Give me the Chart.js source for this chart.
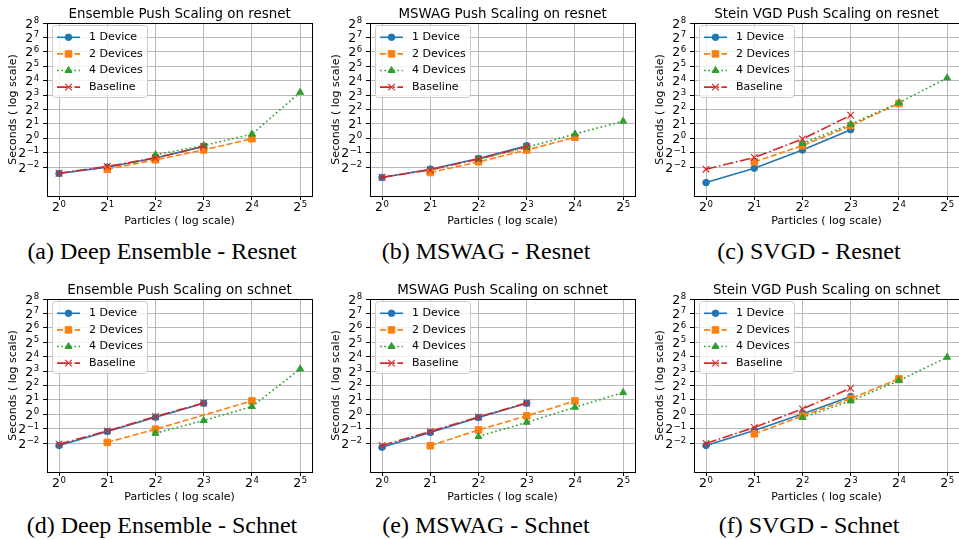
<!doctype html>
<html lang="en">
<head>
  <meta charset="UTF-8" />
  <title>Push Scaling</title>
  <script src="https://cdn.jsdelivr.net/npm/chart.js@4.4.4/dist/chart.umd.min.js"></script>
  <style>
    html, body { margin: 0; padding: 0; background: #fff; }
    body {
      width: 959px;
      height: 540px;
      overflow: hidden;
      position: relative;
      font-family: "DejaVu Sans", sans-serif;
    }
    canvas.panel { position: absolute; }
    .caption {
      position: absolute;
      width: 360px;
      text-align: center;
      font-family: "Liberation Serif", "Times New Roman", serif;
      font-size: 24px;
      line-height: 24px;
      color: #000;
      white-space: nowrap;
    }
  </style>
</head>
<body>
<script>
  // particle counts on the x axis
  const xBase = [1, 2, 4, 8];
  const xTwo = [2, 4, 8, 16];
  const xFour = [4, 8, 16, 32];
  const xTwoEnsSchnet = [2, 4, 16];

  // tick exponents (labels are 2^n)
  const xTickExp = [0, 1, 2, 3, 4, 5];
  const yTickExp = [-2, -1, 0, 1, 2, 3, 4, 5, 6, 7, 8];

  const seriesNames = ['1 Device', '2 Devices', '4 Devices', 'Baseline'];

  // seconds
  const ensResnet1 = [0.184, 0.250, 0.387, 0.678];
  const ensResnet2 = [0.227, 0.356, 0.574, 0.979];
  const ensResnet4 = [0.454, 0.707, 1.223, 9.13];
  const ensResnetBase = [0.187, 0.259, 0.392, 0.678];

  const swagResnet1 = [0.152, 0.227, 0.379, 0.702];
  const swagResnet2 = [0.193, 0.323, 0.570, 1.050];
  const swagResnet4 = [0.369, 0.646, 1.231, 2.282];
  const swagResnetBase = [0.154, 0.219, 0.369, 0.669];

  const svgdResnet1 = [0.119, 0.238, 0.570, 1.516];
  const svgdResnet2 = [0.323, 0.702, 1.840, 5.35];
  const svgdResnet4 = [0.785, 1.973, 5.54, 18.26];
  const svgdResnetBase = [0.227, 0.398, 0.966, 3.03];

  const ensSchnet1 = [0.224, 0.438, 0.871, 1.705];
  const ensSchnet2 = [0.259, 0.490, 1.905];
  const ensSchnet4 = [0.403, 0.742, 1.454, 8.88];
  const ensSchnetBase = [0.238, 0.451, 0.901, 1.729];

  const swagSchnet1 = [0.206, 0.418, 0.858, 1.705];
  const swagSchnet2 = [0.221, 0.473, 0.927, 1.905];
  const swagSchnet4 = [0.344, 0.683, 1.404, 2.848];
  const swagSchnetBase = [0.224, 0.438, 0.883, 1.729];

  const svgdSchnet1 = [0.224, 0.460, 1.021, 2.346];
  const svgdSchnet2 = [0.392, 0.927, 2.129, 5.50];
  const svgdSchnet4 = [0.858, 1.905, 5.06, 15.56];
  const svgdSchnetBase = [0.247, 0.532, 1.301, 3.506];

  const panels = [
    { title: 'Ensemble Push Scaling on resnet', caption: '(a) Deep Ensemble - Resnet', left: 47, top: 23, capX: 162, capY: 239,
      xs: [xBase, xTwo, xFour, xBase], ys: [ensResnet1, ensResnet2, ensResnet4, ensResnetBase] },
    { title: 'MSWAG Push Scaling on resnet', caption: '(b) MSWAG - Resnet', left: 370, top: 23, capX: 486, capY: 239,
      xs: [xBase, xTwo, xFour, xBase], ys: [swagResnet1, swagResnet2, swagResnet4, swagResnetBase] },
    { title: 'Stein VGD Push Scaling on resnet', caption: '(c) SVGD - Resnet', left: 694, top: 23, capX: 809, capY: 239,
      xs: [xBase, xTwo, xFour, xBase], ys: [svgdResnet1, svgdResnet2, svgdResnet4, svgdResnetBase] },
    { title: 'Ensemble Push Scaling on schnet', caption: '(d) Deep Ensemble - Schnet', left: 47, top: 299, capX: 162, capY: 513,
      xs: [xBase, xTwoEnsSchnet, xFour, xBase], ys: [ensSchnet1, ensSchnet2, ensSchnet4, ensSchnetBase] },
    { title: 'MSWAG Push Scaling on schnet', caption: '(e) MSWAG - Schnet', left: 370, top: 299, capX: 486, capY: 513,
      xs: [xBase, xTwo, xFour, xBase], ys: [swagSchnet1, swagSchnet2, swagSchnet4, swagSchnetBase] },
    { title: 'Stein VGD Push Scaling on schnet', caption: '(f) SVGD - Schnet', left: 694, top: 299, capX: 809, capY: 513,
      xs: [xBase, xTwo, xFour, xBase], ys: [svgdSchnet1, svgdSchnet2, svgdSchnet4, svgdSchnetBase] }
  ];

  const styles = [
    { color: '#1f77b4', dash: [], point: 'circle', radius: 3.3, pw: 1 },
    { color: '#ff7f0e', dash: [6.1, 2.6], point: 'rect', radius: 4.6, pw: 1 },
    { color: '#2ca02c', dash: [1.65, 2.7], point: 'triangle', radius: 4, pw: 1 },
    { color: '#d62728', dash: [10.6, 2.6, 1.65, 2.6], point: 'crossRot', radius: 4.7, pw: 1.1 }
  ];

  const AXIS_W = 47, TOP_PAD = 23, X_H = 35, RIGHT_PAD = 3;
  const PLOT_W = 268, PLOT_H = 173;
  const FONT = 'DejaVu Sans';
  const BASE_PX = 12.5, SUP_PX = 8.5, SUP_RAISE = 4.6;

  // "2" with a raised exponent, like matplotlib mathtext
  function drawPow(ctx, e, x, y, align) {
    const exp = String(e).replace('-', '\u2212');
    ctx.font = BASE_PX + 'px "' + FONT + '"';
    const w1 = ctx.measureText('2').width;
    ctx.font = SUP_PX + 'px "' + FONT + '"';
    const w2 = ctx.measureText(exp).width;
    const total = w1 + 0.5 + w2;
    const x0 = align === 'center' ? x - total / 2 : x - total;
    ctx.textAlign = 'left';
    ctx.textBaseline = 'alphabetic';
    ctx.font = BASE_PX + 'px "' + FONT + '"';
    ctx.fillText('2', x0, y);
    ctx.font = SUP_PX + 'px "' + FONT + '"';
    ctx.fillText(exp, x0 + w1 + 0.5, y - SUP_RAISE);
  }

  const panelDecor = {
    id: 'panelDecor',
    afterDraw(chart, args, opts) {
      const { ctx, chartArea: a } = chart;
      const sx = chart.scales.x, sy = chart.scales.y;
      ctx.save();

      // tick labels placed by the scales
      ctx.fillStyle = '#000';
      xTickExp.forEach(e => drawPow(ctx, e, sx.getPixelForValue(Math.pow(2, e)), a.bottom + 15.3, 'center'));
      yTickExp.forEach(e => drawPow(ctx, e, a.left - 7.8, sy.getPixelForValue(Math.pow(2, e)) + 4.5, 'right'));

      // legend, upper left inside the axes
      const lx = a.left + 5.5, ly = a.top + 2.5;
      ctx.beginPath();
      ctx.roundRect(lx, ly, 95, 72, 3);
      ctx.fillStyle = 'rgba(255,255,255,0.8)';
      ctx.fill();
      ctx.strokeStyle = '#cccccc';
      ctx.lineWidth = 1;
      ctx.stroke();
      chart.data.datasets.forEach((ds, i) => {
        const st = styles[i];
        const y = a.top + 14.3 + i * 16.6;
        ctx.beginPath();
        ctx.setLineDash(st.dash);
        ctx.strokeStyle = st.color;
        ctx.lineWidth = 1.6;
        ctx.moveTo(a.left + 10, y);
        ctx.lineTo(a.left + 33, y);
        ctx.stroke();
        ctx.setLineDash([]);
        ctx.fillStyle = st.color;
        ctx.lineWidth = st.pw;
        Chart.helpers.drawPoint(ctx, { pointStyle: st.point, radius: st.radius, borderWidth: st.pw, rotation: 0 }, a.left + 21.5, y);
        ctx.fillStyle = '#000';
        ctx.font = '11px "' + FONT + '"';
        ctx.textAlign = 'left';
        ctx.textBaseline = 'middle';
        ctx.fillText(ds.label, a.left + 42, y);
      });

      // spines
      ctx.strokeStyle = '#000';
      ctx.lineWidth = 1;
      ctx.strokeRect(Math.round(a.left) + 0.5, Math.round(a.top) + 0.5,
        Math.round(a.right - a.left), Math.round(a.bottom - a.top));

      // title
      ctx.fillStyle = '#000';
      ctx.font = '13.4px "' + FONT + '"';
      ctx.textAlign = 'center';
      ctx.textBaseline = 'middle';
      ctx.fillText(opts.text, (a.left + a.right) / 2, a.top - 8.8);
      ctx.restore();
    }
  };

  panels.forEach(p => {
    const canvas = document.createElement('canvas');
    canvas.className = 'panel';
    canvas.width = AXIS_W + PLOT_W + RIGHT_PAD;
    canvas.height = TOP_PAD + PLOT_H + X_H;
    canvas.style.left = (p.left - AXIS_W) + 'px';
    canvas.style.top = (p.top - TOP_PAD) + 'px';
    document.body.appendChild(canvas);

    const cap = document.createElement('div');
    cap.className = 'caption';
    cap.textContent = p.caption;
    cap.style.left = (p.capX - 180) + 'px';
    cap.style.top = p.capY + 'px';
    document.body.appendChild(cap);

    const datasets = seriesNames.map((name, i) => ({
      label: name,
      data: p.xs[i].map((x, j) => ({ x, y: p.ys[i][j] })),
      borderColor: styles[i].color,
      backgroundColor: styles[i].color,
      borderWidth: 1.6,
      borderDash: styles[i].dash,
      pointStyle: styles[i].point,
      pointRadius: styles[i].radius,
      pointBorderWidth: styles[i].pw,
      pointBackgroundColor: styles[i].color,
      pointBorderColor: styles[i].color,
      tension: 0,
      fill: false,
      order: 3 - i
    }));

    new Chart(canvas, {
      type: 'line',
      data: { datasets },
      plugins: [panelDecor],
      options: {
        responsive: false,
        animation: false,
        devicePixelRatio: 1,
        layout: { padding: { top: TOP_PAD, right: RIGHT_PAD, left: 0, bottom: 0 } },
        plugins: {
          legend: { display: false },
          tooltip: { enabled: false },
          title: { display: false },
          panelDecor: { text: p.title }
        },
        scales: {
          x: {
            type: 'logarithmic',
            bounds: 'data',
            min: Math.pow(2, -0.25),
            max: Math.pow(2, 5.25),
            afterBuildTicks: axis => { axis.ticks = xTickExp.map(e => ({ value: Math.pow(2, e) })); },
            afterFit: axis => { axis.height = X_H; },
            ticks: { display: false, autoSkip: false, maxRotation: 0, minRotation: 0 },
            grid: { color: '#b0b0b0', lineWidth: 0.9, drawTicks: true, tickColor: '#000', tickLength: 4, tickWidth: 1 },
            border: { display: false },
            title: {
              display: true, text: 'Particles ( log scale)', color: '#000',
              font: { family: FONT, size: 11 }, padding: { top: 0, bottom: 3.4 }
            }
          },
          y: {
            type: 'logarithmic',
            bounds: 'data',
            min: Math.pow(2, -4),
            max: Math.pow(2, 8),
            afterBuildTicks: axis => { axis.ticks = yTickExp.map(e => ({ value: Math.pow(2, e) })); },
            afterFit: axis => { axis.width = AXIS_W; },
            ticks: { display: false, autoSkip: false },
            grid: { color: '#b0b0b0', lineWidth: 0.9, drawTicks: true, tickColor: '#000', tickLength: 4, tickWidth: 1 },
            border: { display: false },
            title: {
              display: true, text: 'Seconds ( log scale)', color: '#000',
              font: { family: FONT, size: 11 }, padding: { top: 6.4, bottom: 0 }
            }
          }
        }
      }
    });
  });
</script>
</body>
</html>
